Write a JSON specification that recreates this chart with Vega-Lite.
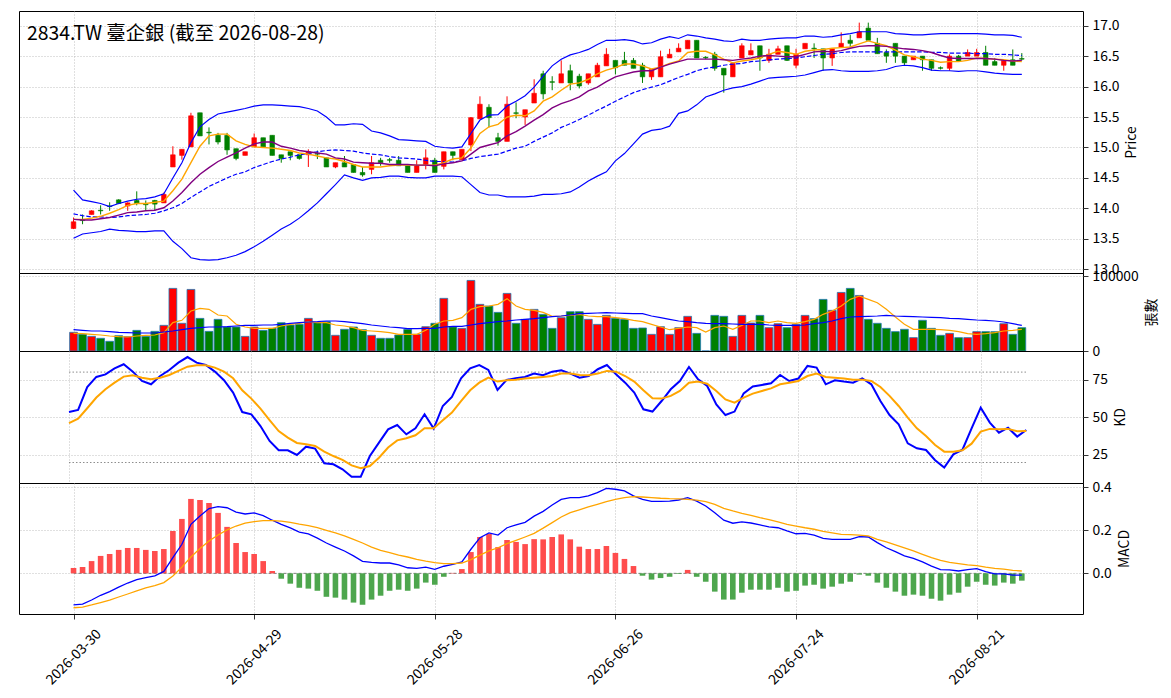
{
"$schema": "https://vega.github.io/schema/vega-lite/v6.json",
"padding": {"left": 18, "top": 10, "right": 0, "bottom": 0},
"background": "white",
"spacing": 0,
"bounds": "flush",
"config": {
 "font": "Noto Sans CJK TC",
 "view": {"stroke": "#000000", "strokeWidth": 1},
 "axis": {"labelFont": "Noto Sans CJK TC", "labelFontSize": 13.9, "labelColor": "#000000", "titleFont": "Noto Sans CJK TC", "titleFontSize": 13.9, "titleFontWeight": "normal", "titleColor": "#000000", "tickColor": "#000000", "tickWidth": 0.8, "gridColor": "#b0b0b0", "gridDash": [1, 2], "gridWidth": 0.8, "domain": false, "labelFlush": false, "labelOverlap": false},
 "axisY": {"labelOverlap": false},
 "axisQuantitative": {"labelOverlap": false},
 "title": {"font": "Noto Sans CJK TC"}
},
"datasets": {
 "kdref": [{"i":0,"ref":80,"g":"hi"},{"i":105,"ref":80,"g":"hi"},{"i":0,"ref":20,"g":"lo"},{"i":105,"ref":20,"g":"lo"}],
 "zref": [{"i":0,"z":0},{"i":105,"z":0}]
},
"data": {"values": [
{"i":0,"d":"2026-03-30","o":13.67,"h":13.85,"l":13.66,"c":13.78,"v":24900,"vm5":23600,"vm20":28400,"m5":13.82,"m10":13.82,"bu":14.30,"bm":13.91,"bl":13.51,"k":53.5,"dv":46.2,"dif":-0.147,"dea":-0.160,"osc":0.025},
{"i":1,"d":"2026-03-31","o":13.81,"h":13.90,"l":13.74,"c":13.80,"v":22200,"vm5":23100,"vm20":27600,"m5":13.82,"m10":13.81,"bu":14.14,"bm":13.88,"bl":13.58,"k":54.9,"dv":49.1,"dif":-0.143,"dea":-0.157,"osc":0.029},
{"i":2,"d":"2026-04-01","o":13.90,"h":13.97,"l":13.90,"c":13.96,"v":19500,"vm5":22200,"vm20":26700,"m5":13.84,"m10":13.81,"bu":14.11,"bm":13.86,"bl":13.60,"k":70.1,"dv":56.0,"dif":-0.124,"dea":-0.147,"osc":0.057},
{"i":3,"d":"2026-04-02","o":13.97,"h":14.05,"l":13.90,"c":13.96,"v":16900,"vm5":21300,"vm20":26700,"m5":13.87,"m10":13.83,"bu":14.08,"bm":13.86,"bl":13.62,"k":76.8,"dv":63.1,"dif":-0.102,"dea":-0.136,"osc":0.081},
{"i":4,"d":"2026-04-07","o":14.04,"h":14.10,"l":13.96,"c":14.03,"v":12900,"vm5":20000,"vm20":25800,"m5":13.92,"m10":13.85,"bu":14.03,"bm":13.85,"bl":13.66,"k":78.5,"dv":68.6,"dif":-0.085,"dea":-0.124,"osc":0.090},
{"i":5,"d":"2026-04-08","o":14.14,"h":14.15,"l":14.07,"c":14.08,"v":20400,"vm5":19100,"vm20":24900,"m5":13.98,"m10":13.89,"bu":14.08,"bm":13.86,"bl":13.64,"k":82.5,"dv":73.0,"dif":-0.064,"dea":-0.110,"osc":0.109},
{"i":6,"d":"2026-04-09","o":14.04,"h":14.10,"l":13.96,"c":14.09,"v":19100,"vm5":18700,"vm20":24400,"m5":14.05,"m10":13.93,"bu":14.12,"bm":13.88,"bl":13.63,"k":85.2,"dv":77.0,"dif":-0.045,"dea":-0.096,"osc":0.118},
{"i":7,"d":"2026-04-10","o":14.13,"h":14.28,"l":14.05,"c":14.08,"v":27500,"vm5":20000,"vm20":24000,"m5":14.08,"m10":13.94,"bu":14.15,"bm":13.89,"bl":13.62,"k":80.3,"dv":77.9,"dif":-0.029,"dea":-0.082,"osc":0.118},
{"i":8,"d":"2026-04-13","o":14.07,"h":14.13,"l":13.96,"c":14.06,"v":19500,"vm5":20900,"vm20":24000,"m5":14.08,"m10":13.96,"bu":14.16,"bm":13.90,"bl":13.62,"k":74.1,"dv":76.3,"dif":-0.020,"dea":-0.068,"osc":0.109},
{"i":9,"d":"2026-04-14","o":14.13,"h":14.14,"l":13.96,"c":14.07,"v":26200,"vm5":21300,"vm20":24000,"m5":14.10,"m10":13.97,"bu":14.19,"bm":13.92,"bl":13.63,"k":71.9,"dv":75.2,"dif":-0.012,"dea":-0.057,"osc":0.104},
{"i":10,"d":"2026-04-15","o":14.09,"h":14.26,"l":14.09,"c":14.23,"v":34200,"vm5":24400,"vm20":25300,"m5":14.12,"m10":14.01,"bu":14.24,"bm":13.96,"bl":13.63,"k":77.4,"dv":76.3,"dif":0.009,"dea":-0.043,"osc":0.113},
{"i":11,"d":"2026-04-16","o":14.68,"h":15.02,"l":14.68,"c":14.88,"v":83500,"vm5":37800,"vm20":26700,"m5":14.29,"m10":14.12,"bu":14.50,"bm":14.01,"bl":13.46,"k":81.4,"dv":78.1,"dif":0.073,"dea":-0.012,"osc":0.197},
{"i":12,"d":"2026-04-17","o":14.87,"h":14.97,"l":14.80,"c":14.97,"v":36900,"vm5":40900,"vm20":28400,"m5":14.48,"m10":14.26,"bu":14.75,"bm":14.08,"bl":13.34,"k":86.3,"dv":80.8,"dif":0.135,"dea":0.029,"osc":0.253},
{"i":13,"d":"2026-04-20","o":15.01,"h":15.57,"l":15.01,"c":15.52,"v":82100,"vm5":53300,"vm20":30200,"m5":14.75,"m10":14.42,"bu":15.08,"bm":14.18,"bl":13.19,"k":90.0,"dv":83.6,"dif":0.228,"dea":0.076,"osc":0.346},
{"i":14,"d":"2026-04-21","o":15.57,"h":15.57,"l":15.19,"c":15.19,"v":43500,"vm5":56900,"vm20":31100,"m5":15.02,"m10":14.56,"bu":15.34,"bm":14.27,"bl":13.16,"k":86.3,"dv":84.5,"dif":0.267,"dea":0.115,"osc":0.341},
{"i":15,"d":"2026-04-22","o":15.25,"h":15.33,"l":15.05,"c":15.24,"v":26200,"vm5":55600,"vm20":32000,"m5":15.19,"m10":14.67,"bu":15.46,"bm":14.36,"bl":13.15,"k":84.7,"dv":84.5,"dif":0.301,"dea":0.150,"osc":0.327},
{"i":16,"d":"2026-04-23","o":15.20,"h":15.24,"l":15.05,"c":15.09,"v":42200,"vm5":48000,"vm20":32000,"m5":15.22,"m10":14.77,"bu":15.55,"bm":14.43,"bl":13.16,"k":80.3,"dv":83.0,"dif":0.310,"dea":0.178,"osc":0.281},
{"i":17,"d":"2026-04-24","o":15.20,"h":15.24,"l":14.88,"c":14.96,"v":32000,"vm5":46700,"vm20":32400,"m5":15.22,"m10":14.84,"bu":15.58,"bm":14.50,"bl":13.19,"k":74.6,"dv":80.3,"dif":0.305,"dea":0.202,"osc":0.216},
{"i":18,"d":"2026-04-27","o":14.98,"h":14.98,"l":14.79,"c":14.82,"v":32000,"vm5":35600,"vm20":33300,"m5":15.11,"m10":14.91,"bu":15.61,"bm":14.56,"bl":13.23,"k":66.4,"dv":75.9,"dif":0.285,"dea":0.220,"osc":0.141},
{"i":19,"d":"2026-04-28","o":14.87,"h":14.93,"l":14.87,"c":14.93,"v":19500,"vm5":32000,"vm20":34200,"m5":15.05,"m10":14.99,"bu":15.64,"bm":14.60,"bl":13.29,"k":53.5,"dv":67.9,"dif":0.276,"dea":0.233,"osc":0.099},
{"i":20,"d":"2026-04-29","o":15.01,"h":15.23,"l":15.01,"c":15.16,"v":32000,"vm5":30200,"vm20":34200,"m5":15.01,"m10":15.06,"bu":15.68,"bm":14.67,"bl":13.37,"k":52.0,"dv":62.4,"dif":0.281,"dea":0.240,"osc":0.090},
{"i":21,"d":"2026-04-30","o":15.16,"h":15.16,"l":15.01,"c":15.01,"v":27500,"vm5":30200,"vm20":34700,"m5":15.00,"m10":15.09,"bu":15.70,"bm":14.72,"bl":13.46,"k":44.2,"dv":55.8,"dif":0.268,"dea":0.245,"osc":0.057},
{"i":22,"d":"2026-05-04","o":15.20,"h":15.20,"l":14.87,"c":14.87,"v":30200,"vm5":30200,"vm20":34700,"m5":14.99,"m10":15.09,"bu":15.70,"bm":14.77,"bl":13.56,"k":34.3,"dv":48.2,"dif":0.247,"dea":0.245,"osc":0.011},
{"i":23,"d":"2026-05-05","o":14.88,"h":14.88,"l":14.75,"c":14.82,"v":37700,"vm5":33300,"vm20":35600,"m5":14.97,"m10":15.02,"bu":15.69,"bm":14.81,"bl":13.66,"k":28.1,"dv":40.9,"dif":0.228,"dea":0.243,"osc":-0.025},
{"i":24,"d":"2026-05-06","o":14.93,"h":14.93,"l":14.79,"c":14.87,"v":34600,"vm5":35600,"vm20":36900,"m5":14.95,"m10":14.99,"bu":15.68,"bm":14.84,"bl":13.74,"k":28.1,"dv":36.5,"dif":0.211,"dea":0.237,"osc":-0.048},
{"i":25,"d":"2026-05-07","o":14.88,"h":14.88,"l":14.80,"c":14.82,"v":35500,"vm5":36900,"vm20":37800,"m5":14.91,"m10":14.95,"bu":15.67,"bm":14.88,"bl":13.84,"k":25.0,"dv":33.0,"dif":0.192,"dea":0.229,"osc":-0.067},
{"i":26,"d":"2026-05-08","o":14.88,"h":14.97,"l":14.68,"c":14.93,"v":43500,"vm5":39100,"vm20":38700,"m5":14.89,"m10":14.93,"bu":15.64,"bm":14.90,"bl":13.96,"k":30.5,"dv":32.1,"dif":0.183,"dea":0.222,"osc":-0.071},
{"i":27,"d":"2026-05-11","o":14.90,"h":14.95,"l":14.81,"c":14.89,"v":37700,"vm5":37800,"vm20":39100,"m5":14.86,"m10":14.91,"bu":15.60,"bm":14.93,"bl":14.09,"k":29.2,"dv":31.0,"dif":0.164,"dea":0.212,"osc":-0.081},
{"i":28,"d":"2026-05-12","o":14.83,"h":14.83,"l":14.68,"c":14.68,"v":39100,"vm5":37800,"vm20":40000,"m5":14.83,"m10":14.89,"bu":15.50,"bm":14.95,"bl":14.24,"k":19.5,"dv":27.2,"dif":0.141,"dea":0.200,"osc":-0.109},
{"i":29,"d":"2026-05-13","o":14.68,"h":14.75,"l":14.66,"c":14.75,"v":20900,"vm5":34700,"vm20":40000,"m5":14.81,"m10":14.83,"bu":15.37,"bm":14.96,"bl":14.39,"k":18.8,"dv":24.3,"dif":0.122,"dea":0.188,"osc":-0.113},
{"i":30,"d":"2026-05-14","o":14.75,"h":14.86,"l":14.68,"c":14.68,"v":28900,"vm5":33300,"vm20":39100,"m5":14.77,"m10":14.81,"bu":15.37,"bm":14.95,"bl":14.55,"k":15.5,"dv":21.7,"dif":0.104,"dea":0.174,"osc":-0.122},
{"i":31,"d":"2026-05-15","o":14.72,"h":14.72,"l":14.59,"c":14.59,"v":32000,"vm5":31100,"vm20":37800,"m5":14.72,"m10":14.76,"bu":15.39,"bm":14.94,"bl":14.50,"k":10.6,"dv":18.1,"dif":0.081,"dea":0.158,"osc":-0.136},
{"i":32,"d":"2026-05-18","o":14.59,"h":14.68,"l":14.52,"c":14.55,"v":28400,"vm5":27600,"vm20":36400,"m5":14.68,"m10":14.75,"bu":15.38,"bm":14.91,"bl":14.46,"k":10.6,"dv":16.2,"dif":0.056,"dea":0.141,"osc":-0.146},
{"i":33,"d":"2026-05-19","o":14.64,"h":14.86,"l":14.56,"c":14.75,"v":20900,"vm5":26700,"vm20":34700,"m5":14.68,"m10":14.74,"bu":15.27,"bm":14.89,"bl":14.50,"k":24.3,"dv":17.7,"dif":0.051,"dea":0.122,"osc":-0.122},
{"i":34,"d":"2026-05-20","o":14.79,"h":14.83,"l":14.70,"c":14.75,"v":16900,"vm5":25800,"vm20":33300,"m5":14.68,"m10":14.74,"bu":15.24,"bm":14.88,"bl":14.51,"k":33.2,"dv":23.2,"dif":0.048,"dea":0.107,"osc":-0.104},
{"i":35,"d":"2026-05-21","o":14.80,"h":14.83,"l":14.75,"c":14.79,"v":16900,"vm5":24400,"vm20":32000,"m5":14.70,"m10":14.72,"bu":15.19,"bm":14.85,"bl":14.53,"k":42.0,"dv":29.9,"dif":0.048,"dea":0.096,"osc":-0.081},
{"i":36,"d":"2026-05-22","o":14.79,"h":14.86,"l":14.70,"c":14.70,"v":21300,"vm5":22200,"vm20":31100,"m5":14.71,"m10":14.72,"bu":15.13,"bm":14.83,"bl":14.53,"k":44.9,"dv":34.7,"dif":0.039,"dea":0.085,"osc":-0.076},
{"i":37,"d":"2026-05-25","o":14.70,"h":14.70,"l":14.59,"c":14.59,"v":28900,"vm5":22200,"vm20":29800,"m5":14.71,"m10":14.72,"bu":15.12,"bm":14.82,"bl":14.51,"k":38.7,"dv":36.1,"dif":0.026,"dea":0.076,"osc":-0.081},
{"i":38,"d":"2026-05-26","o":14.59,"h":14.79,"l":14.59,"c":14.70,"v":22200,"vm5":22200,"vm20":29800,"m5":14.71,"m10":14.71,"bu":15.11,"bm":14.81,"bl":14.50,"k":42.7,"dv":38.1,"dif":0.023,"dea":0.065,"osc":-0.071},
{"i":39,"d":"2026-05-27","o":14.72,"h":14.97,"l":14.64,"c":14.83,"v":32400,"vm5":27600,"vm20":30200,"m5":14.71,"m10":14.71,"bu":15.10,"bm":14.79,"bl":14.50,"k":52.0,"dv":42.7,"dif":0.029,"dea":0.057,"osc":-0.043},
{"i":40,"d":"2026-05-28","o":14.79,"h":14.83,"l":14.59,"c":14.59,"v":36900,"vm5":35600,"vm20":30200,"m5":14.71,"m10":14.70,"bu":15.02,"bm":14.77,"bl":14.53,"k":42.5,"dv":42.7,"dif":0.019,"dea":0.050,"osc":-0.053},
{"i":41,"d":"2026-05-29","o":14.69,"h":14.93,"l":14.64,"c":14.93,"v":70200,"vm5":40000,"vm20":32000,"m5":14.75,"m10":14.73,"bu":15.00,"bm":14.77,"bl":14.53,"k":57.5,"dv":48.0,"dif":0.033,"dea":0.045,"osc":-0.016},
{"i":42,"d":"2026-06-01","o":14.93,"h":14.93,"l":14.79,"c":14.87,"v":32000,"vm5":40900,"vm20":32900,"m5":14.81,"m10":14.75,"bu":14.99,"bm":14.76,"bl":14.53,"k":63.5,"dv":53.1,"dif":0.042,"dea":0.045,"osc":0.002},
{"i":43,"d":"2026-06-02","o":14.80,"h":14.97,"l":14.80,"c":14.97,"v":30200,"vm5":44400,"vm20":32900,"m5":14.83,"m10":14.78,"bu":15.01,"bm":14.78,"bl":14.52,"k":75.9,"dv":60.8,"dif":0.053,"dea":0.048,"osc":0.020},
{"i":44,"d":"2026-06-03","o":15.04,"h":15.50,"l":14.94,"c":15.49,"v":94100,"vm5":55600,"vm20":34700,"m5":14.99,"m10":14.89,"bu":15.23,"bm":14.82,"bl":14.39,"k":82.5,"dv":67.9,"dif":0.112,"dea":0.064,"osc":0.099},
{"i":45,"d":"2026-06-04","o":15.47,"h":15.84,"l":15.47,"c":15.71,"v":62200,"vm5":59100,"vm20":36400,"m5":15.23,"m10":15.00,"bu":15.45,"bm":14.85,"bl":14.26,"k":84.7,"dv":73.0,"dif":0.166,"dea":0.085,"osc":0.169},
{"i":46,"d":"2026-06-05","o":15.66,"h":15.71,"l":15.33,"c":15.49,"v":59900,"vm5":60000,"vm20":37800,"m5":15.34,"m10":15.04,"bu":15.53,"bm":14.87,"bl":14.22,"k":81.4,"dv":76.3,"dif":0.188,"dea":0.104,"osc":0.183},
{"i":47,"d":"2026-06-08","o":15.16,"h":15.24,"l":15.03,"c":15.10,"v":51500,"vm5":62200,"vm20":39100,"m5":15.38,"m10":15.08,"bu":15.54,"bm":14.89,"bl":14.22,"k":68.1,"dv":73.7,"dif":0.178,"dea":0.119,"osc":0.122},
{"i":48,"d":"2026-06-09","o":15.10,"h":15.84,"l":15.10,"c":15.71,"v":76800,"vm5":69800,"vm20":40000,"m5":15.50,"m10":15.19,"bu":15.68,"bm":14.94,"bl":14.19,"k":74.8,"dv":74.6,"dif":0.212,"dea":0.138,"osc":0.155},
{"i":49,"d":"2026-06-10","o":15.57,"h":15.74,"l":15.48,"c":15.56,"v":36900,"vm5":60000,"vm20":41300,"m5":15.53,"m10":15.26,"bu":15.76,"bm":14.99,"bl":14.19,"k":75.9,"dv":75.0,"dif":0.225,"dea":0.153,"osc":0.146},
{"i":50,"d":"2026-06-11","o":15.50,"h":15.62,"l":15.37,"c":15.62,"v":42200,"vm5":55600,"vm20":42200,"m5":15.52,"m10":15.35,"bu":15.85,"bm":15.02,"bl":14.19,"k":76.8,"dv":75.7,"dif":0.237,"dea":0.169,"osc":0.136},
{"i":51,"d":"2026-06-12","o":15.73,"h":16.12,"l":15.73,"c":15.89,"v":55500,"vm5":54200,"vm20":43100,"m5":15.60,"m10":15.45,"bu":15.99,"bm":15.10,"bl":14.20,"k":79.0,"dv":76.3,"dif":0.266,"dea":0.186,"osc":0.159},
{"i":52,"d":"2026-06-15","o":16.21,"h":16.26,"l":15.79,"c":15.88,"v":48800,"vm5":51500,"vm20":44400,"m5":15.76,"m10":15.54,"bu":16.17,"bm":15.17,"bl":14.23,"k":77.9,"dv":76.8,"dif":0.288,"dea":0.210,"osc":0.158},
{"i":53,"d":"2026-06-16","o":16.08,"h":16.17,"l":15.94,"c":16.07,"v":30200,"vm5":46200,"vm20":45800,"m5":15.83,"m10":15.65,"bu":16.34,"bm":15.24,"bl":14.23,"k":80.3,"dv":77.4,"dif":0.318,"dea":0.236,"osc":0.169},
{"i":54,"d":"2026-06-17","o":16.06,"h":16.43,"l":16.06,"c":16.21,"v":44400,"vm5":46700,"vm20":46700,"m5":15.94,"m10":15.72,"bu":16.45,"bm":15.33,"bl":14.24,"k":81.2,"dv":79.0,"dif":0.344,"dea":0.262,"osc":0.181},
{"i":55,"d":"2026-06-18","o":16.26,"h":16.36,"l":15.94,"c":16.06,"v":52400,"vm5":47600,"vm20":48000,"m5":16.04,"m10":15.77,"bu":16.52,"bm":15.39,"bl":14.27,"k":79.0,"dv":79.0,"dif":0.352,"dea":0.282,"osc":0.158},
{"i":56,"d":"2026-06-22","o":16.17,"h":16.21,"l":15.97,"c":16.01,"v":52400,"vm5":48900,"vm20":49800,"m5":16.06,"m10":15.83,"bu":16.56,"bm":15.46,"bl":14.35,"k":76.3,"dv":78.1,"dif":0.352,"dea":0.295,"osc":0.124},
{"i":57,"d":"2026-06-23","o":16.06,"h":16.21,"l":16.03,"c":16.21,"v":42200,"vm5":46700,"vm20":50200,"m5":16.12,"m10":15.93,"bu":16.61,"bm":15.53,"bl":14.45,"k":77.4,"dv":77.9,"dif":0.360,"dea":0.309,"osc":0.113},
{"i":58,"d":"2026-06-24","o":16.16,"h":16.39,"l":16.16,"c":16.35,"v":35500,"vm5":45800,"vm20":50700,"m5":16.21,"m10":15.99,"bu":16.69,"bm":15.61,"bl":14.53,"k":81.9,"dv":79.0,"dif":0.375,"dea":0.321,"osc":0.113},
{"i":59,"d":"2026-06-25","o":16.34,"h":16.63,"l":16.34,"c":16.53,"v":47500,"vm5":45800,"vm20":51100,"m5":16.27,"m10":16.08,"bu":16.76,"bm":15.68,"bl":14.60,"k":84.7,"dv":80.8,"dif":0.395,"dea":0.333,"osc":0.127},
{"i":60,"d":"2026-06-26","o":16.43,"h":16.43,"l":16.20,"c":16.31,"v":43500,"vm5":44400,"vm20":50700,"m5":16.31,"m10":16.16,"bu":16.76,"bm":15.76,"bl":14.78,"k":78.5,"dv":80.3,"dif":0.391,"dea":0.344,"osc":0.095},
{"i":61,"d":"2026-06-29","o":16.43,"h":16.57,"l":16.35,"c":16.35,"v":42200,"vm5":43100,"vm20":50200,"m5":16.37,"m10":16.20,"bu":16.77,"bm":15.83,"bl":14.90,"k":73.0,"dv":77.4,"dif":0.383,"dea":0.352,"osc":0.067},
{"i":62,"d":"2026-06-30","o":16.43,"h":16.47,"l":16.30,"c":16.30,"v":30200,"vm5":40900,"vm20":49800,"m5":16.37,"m10":16.24,"bu":16.75,"bm":15.90,"bl":15.06,"k":66.4,"dv":73.7,"dif":0.360,"dea":0.357,"osc":0.034},
{"i":63,"d":"2026-07-01","o":16.35,"h":16.39,"l":16.06,"c":16.16,"v":30700,"vm5":39100,"vm20":49800,"m5":16.34,"m10":16.26,"bu":16.70,"bm":15.95,"bl":15.22,"k":55.3,"dv":67.9,"dif":0.344,"dea":0.355,"osc":-0.011},
{"i":64,"d":"2026-07-02","o":16.16,"h":16.28,"l":16.11,"c":16.28,"v":22200,"vm5":35600,"vm20":46700,"m5":16.29,"m10":16.26,"bu":16.72,"bm":15.99,"bl":15.28,"k":53.8,"dv":62.6,"dif":0.335,"dea":0.352,"osc":-0.029},
{"i":65,"d":"2026-07-03","o":16.16,"h":16.59,"l":16.16,"c":16.49,"v":32400,"vm5":32000,"vm20":44400,"m5":16.32,"m10":16.32,"bu":16.78,"bm":16.03,"bl":15.30,"k":60.8,"dv":62.4,"dif":0.335,"dea":0.349,"osc":-0.022},
{"i":66,"d":"2026-07-06","o":16.47,"h":16.62,"l":16.47,"c":16.53,"v":22200,"vm5":28400,"vm20":42200,"m5":16.38,"m10":16.37,"bu":16.82,"bm":16.09,"bl":15.35,"k":68.6,"dv":64.2,"dif":0.336,"dea":0.347,"osc":-0.016},
{"i":67,"d":"2026-07-07","o":16.57,"h":16.71,"l":16.57,"c":16.63,"v":31100,"vm5":30200,"vm20":40000,"m5":16.42,"m10":16.41,"bu":16.79,"bm":16.15,"bl":15.56,"k":74.1,"dv":67.5,"dif":0.341,"dea":0.346,"osc":-0.003},
{"i":68,"d":"2026-07-08","o":16.62,"h":16.76,"l":16.62,"c":16.76,"v":46200,"vm5":32000,"vm20":39100,"m5":16.56,"m10":16.45,"bu":16.85,"bm":16.20,"bl":15.60,"k":83.4,"dv":73.0,"dif":0.352,"dea":0.344,"osc":0.016},
{"i":69,"d":"2026-07-09","o":16.76,"h":16.76,"l":16.47,"c":16.47,"v":23500,"vm5":31100,"vm20":37800,"m5":16.58,"m10":16.45,"bu":16.83,"bm":16.26,"bl":15.70,"k":75.2,"dv":73.7,"dif":0.336,"dea":0.340,"osc":-0.016},
{"i":70,"d":"2026-07-10","o":16.48,"h":16.50,"l":16.45,"c":16.47,"v":0,"vm5":25300,"vm20":36900,"m5":16.58,"m10":16.45,"bu":16.80,"bm":16.30,"bl":15.83,"k":70.8,"dv":72.3,"dif":0.313,"dea":0.333,"osc":-0.039},
{"i":71,"d":"2026-07-13","o":16.53,"h":16.57,"l":16.26,"c":16.30,"v":47500,"vm5":31100,"vm20":36400,"m5":16.52,"m10":16.45,"bu":16.78,"bm":16.32,"bl":15.88,"k":58.6,"dv":67.5,"dif":0.282,"dea":0.321,"osc":-0.085},
{"i":72,"d":"2026-07-14","o":16.30,"h":16.30,"l":15.90,"c":16.19,"v":46200,"vm5":33300,"vm20":36400,"m5":16.45,"m10":16.44,"bu":16.75,"bm":16.35,"bl":15.94,"k":51.5,"dv":61.9,"dif":0.247,"dea":0.302,"osc":-0.122},
{"i":73,"d":"2026-07-15","o":16.16,"h":16.40,"l":16.16,"c":16.38,"v":19500,"vm5":28900,"vm20":36000,"m5":16.39,"m10":16.43,"bu":16.74,"bm":16.37,"bl":15.98,"k":53.8,"dv":59.7,"dif":0.233,"dea":0.290,"osc":-0.122},
{"i":74,"d":"2026-07-16","o":16.47,"h":16.71,"l":16.47,"c":16.67,"v":47500,"vm5":34200,"vm20":35600,"m5":16.42,"m10":16.45,"bu":16.78,"bm":16.38,"bl":16.00,"k":65.9,"dv":63.1,"dif":0.239,"dea":0.279,"osc":-0.090},
{"i":75,"d":"2026-07-17","o":16.52,"h":16.71,"l":16.52,"c":16.59,"v":37300,"vm5":40000,"vm20":35600,"m5":16.44,"m10":16.47,"bu":16.76,"bm":16.41,"bl":16.04,"k":70.4,"dv":65.7,"dif":0.234,"dea":0.270,"osc":-0.076},
{"i":76,"d":"2026-07-20","o":16.67,"h":16.67,"l":16.26,"c":16.47,"v":47500,"vm5":40000,"vm20":35600,"m5":16.47,"m10":16.50,"bu":16.76,"bm":16.42,"bl":16.09,"k":71.5,"dv":67.5,"dif":0.225,"dea":0.259,"osc":-0.076},
{"i":77,"d":"2026-07-21","o":16.43,"h":16.62,"l":16.39,"c":16.53,"v":31100,"vm5":37800,"vm20":34700,"m5":16.53,"m10":16.51,"bu":16.78,"bm":16.44,"bl":16.14,"k":72.6,"dv":69.2,"dif":0.216,"dea":0.250,"osc":-0.076},
{"i":78,"d":"2026-07-22","o":16.53,"h":16.67,"l":16.53,"c":16.62,"v":36400,"vm5":40000,"vm20":34200,"m5":16.58,"m10":16.50,"bu":16.79,"bm":16.45,"bl":16.15,"k":78.1,"dv":71.9,"dif":0.212,"dea":0.239,"osc":-0.067},
{"i":79,"d":"2026-07-23","o":16.67,"h":16.67,"l":16.42,"c":16.43,"v":31100,"vm5":37800,"vm20":34200,"m5":16.56,"m10":16.49,"bu":16.80,"bm":16.46,"bl":16.16,"k":74.1,"dv":73.0,"dif":0.197,"dea":0.228,"osc":-0.085},
{"i":80,"d":"2026-07-24","o":16.35,"h":16.62,"l":16.30,"c":16.53,"v":35500,"vm5":36900,"vm20":34200,"m5":16.53,"m10":16.49,"bu":16.80,"bm":16.47,"bl":16.17,"k":75.7,"dv":74.1,"dif":0.184,"dea":0.220,"osc":-0.081},
{"i":81,"d":"2026-07-27","o":16.62,"h":16.71,"l":16.62,"c":16.71,"v":47500,"vm5":39100,"vm20":34700,"m5":16.58,"m10":16.53,"bu":16.83,"bm":16.49,"bl":16.19,"k":84.1,"dv":77.4,"dif":0.186,"dea":0.212,"osc":-0.057},
{"i":82,"d":"2026-07-28","o":16.63,"h":16.71,"l":16.47,"c":16.62,"v":43100,"vm5":42200,"vm20":36400,"m5":16.60,"m10":16.57,"bu":16.83,"bm":16.51,"bl":16.23,"k":83.0,"dv":79.0,"dif":0.178,"dea":0.205,"osc":-0.053},
{"i":83,"d":"2026-07-29","o":16.62,"h":16.62,"l":16.26,"c":16.47,"v":68800,"vm5":48900,"vm20":37800,"m5":16.61,"m10":16.58,"bu":16.81,"bm":16.53,"bl":16.27,"k":71.9,"dv":76.8,"dif":0.163,"dea":0.195,"osc":-0.071},
{"i":84,"d":"2026-07-30","o":16.47,"h":16.62,"l":16.34,"c":16.62,"v":54200,"vm5":53300,"vm20":40000,"m5":16.63,"m10":16.57,"bu":16.82,"bm":16.54,"bl":16.28,"k":74.6,"dv":76.3,"dif":0.158,"dea":0.188,"osc":-0.062},
{"i":85,"d":"2026-07-31","o":16.65,"h":16.89,"l":16.65,"c":16.71,"v":78100,"vm5":60000,"vm20":43100,"m5":16.64,"m10":16.59,"bu":16.85,"bm":16.56,"bl":16.26,"k":73.7,"dv":75.7,"dif":0.158,"dea":0.181,"osc":-0.048},
{"i":86,"d":"2026-08-03","o":16.76,"h":16.85,"l":16.65,"c":16.71,"v":83500,"vm5":68900,"vm20":45300,"m5":16.65,"m10":16.63,"bu":16.87,"bm":16.57,"bl":16.25,"k":73.0,"dv":75.0,"dif":0.158,"dea":0.180,"osc":-0.039},
{"i":87,"d":"2026-08-04","o":16.80,"h":17.05,"l":16.80,"c":16.90,"v":74100,"vm5":73300,"vm20":45800,"m5":16.70,"m10":16.66,"bu":16.90,"bm":16.57,"bl":16.25,"k":75.9,"dv":75.0,"dif":0.171,"dea":0.178,"osc":-0.006},
{"i":88,"d":"2026-08-05","o":16.96,"h":17.05,"l":16.76,"c":16.76,"v":42200,"vm5":68900,"vm20":46200,"m5":16.75,"m10":16.67,"bu":16.90,"bm":16.57,"bl":16.25,"k":71.9,"dv":74.1,"dif":0.169,"dea":0.174,"osc":-0.011},
{"i":89,"d":"2026-08-06","o":16.71,"h":16.80,"l":16.54,"c":16.54,"v":36900,"vm5":64400,"vm20":46700,"m5":16.71,"m10":16.67,"bu":16.90,"bm":16.57,"bl":16.26,"k":60.8,"dv":70.1,"dif":0.143,"dea":0.158,"osc":-0.043},
{"i":90,"d":"2026-08-07","o":16.56,"h":16.61,"l":16.39,"c":16.50,"v":30200,"vm5":55600,"vm20":47600,"m5":16.67,"m10":16.66,"bu":16.90,"bm":16.57,"bl":16.28,"k":51.5,"dv":64.2,"dif":0.119,"dea":0.146,"osc":-0.067},
{"i":91,"d":"2026-08-10","o":16.71,"h":16.71,"l":16.39,"c":16.50,"v":25800,"vm5":45300,"vm20":46700,"m5":16.60,"m10":16.64,"bu":16.87,"bm":16.57,"bl":16.33,"k":45.4,"dv":57.5,"dif":0.101,"dea":0.132,"osc":-0.085},
{"i":92,"d":"2026-08-11","o":16.50,"h":16.50,"l":16.34,"c":16.39,"v":28900,"vm5":35600,"vm20":46200,"m5":16.52,"m10":16.62,"bu":16.86,"bm":16.57,"bl":16.35,"k":32.7,"dv":49.8,"dif":0.081,"dea":0.118,"osc":-0.104},
{"i":93,"d":"2026-08-12","o":16.44,"h":16.50,"l":16.44,"c":16.50,"v":17800,"vm5":28900,"vm20":45800,"m5":16.49,"m10":16.61,"bu":16.85,"bm":16.57,"bl":16.34,"k":29.4,"dv":42.7,"dif":0.070,"dea":0.104,"osc":-0.099},
{"i":94,"d":"2026-08-13","o":16.50,"h":16.50,"l":16.26,"c":16.44,"v":40900,"vm5":28900,"vm20":45300,"m5":16.45,"m10":16.59,"bu":16.85,"bm":16.57,"bl":16.31,"k":28.3,"dv":37.6,"dif":0.053,"dea":0.088,"osc":-0.104},
{"i":95,"d":"2026-08-14","o":16.44,"h":16.44,"l":16.26,"c":16.30,"v":30200,"vm5":28900,"vm20":44900,"m5":16.43,"m10":16.56,"bu":16.86,"bm":16.56,"bl":16.27,"k":21.5,"dv":31.6,"dif":0.034,"dea":0.073,"osc":-0.118},
{"i":96,"d":"2026-08-17","o":16.31,"h":16.33,"l":16.28,"c":16.30,"v":20900,"vm5":28400,"vm20":44400,"m5":16.40,"m10":16.51,"bu":16.87,"bm":16.56,"bl":16.26,"k":16.6,"dv":27.2,"dif":0.017,"dea":0.060,"osc":-0.127},
{"i":97,"d":"2026-08-18","o":16.30,"h":16.53,"l":16.26,"c":16.50,"v":23500,"vm5":27600,"vm20":43600,"m5":16.41,"m10":16.47,"bu":16.87,"bm":16.55,"bl":16.26,"k":25.4,"dv":27.2,"dif":0.016,"dea":0.051,"osc":-0.099},
{"i":98,"d":"2026-08-19","o":16.50,"h":16.52,"l":16.42,"c":16.42,"v":17800,"vm5":25800,"vm20":43100,"m5":16.41,"m10":16.46,"bu":16.87,"bm":16.55,"bl":16.25,"k":28.5,"dv":28.1,"dif":0.011,"dea":0.045,"osc":-0.090},
{"i":99,"d":"2026-08-20","o":16.50,"h":16.61,"l":16.50,"c":16.56,"v":17800,"vm5":23100,"vm20":42200,"m5":16.43,"m10":16.46,"bu":16.87,"bm":16.55,"bl":16.26,"k":42.7,"dv":32.5,"dif":0.017,"dea":0.039,"osc":-0.062},
{"i":100,"d":"2026-08-21","o":16.50,"h":16.62,"l":16.50,"c":16.56,"v":25800,"vm5":22200,"vm20":41300,"m5":16.47,"m10":16.46,"bu":16.87,"bm":16.54,"bl":16.26,"k":56.4,"dv":40.5,"dif":0.022,"dea":0.036,"osc":-0.039},
{"i":101,"d":"2026-08-24","o":16.56,"h":16.67,"l":16.35,"c":16.35,"v":25800,"vm5":23100,"vm20":40900,"m5":16.46,"m10":16.46,"bu":16.86,"bm":16.54,"bl":16.24,"k":46.5,"dv":42.3,"dif":0.008,"dea":0.029,"osc":-0.053},
{"i":102,"d":"2026-08-25","o":16.41,"h":16.47,"l":16.35,"c":16.35,"v":25800,"vm5":24400,"vm20":40000,"m5":16.45,"m10":16.45,"bu":16.85,"bm":16.53,"bl":16.22,"k":39.8,"dv":42.0,"dif":-0.002,"dea":0.023,"osc":-0.057},
{"i":103,"d":"2026-08-26","o":16.35,"h":16.43,"l":16.26,"c":16.43,"v":36400,"vm5":26700,"vm20":38700,"m5":16.44,"m10":16.43,"bu":16.85,"bm":16.53,"bl":16.21,"k":43.1,"dv":42.3,"dif":-0.002,"dea":0.020,"osc":-0.043},
{"i":104,"d":"2026-08-27","o":16.44,"h":16.61,"l":16.35,"c":16.35,"v":22200,"vm5":27600,"vm20":36400,"m5":16.42,"m10":16.42,"bu":16.84,"bm":16.52,"bl":16.20,"k":37.2,"dv":40.7,"dif":-0.008,"dea":0.014,"osc":-0.048},
{"i":105,"d":"2026-08-28","o":16.46,"h":16.55,"l":16.43,"c":16.45,"v":31100,"vm5":28900,"vm20":34200,"m5":16.41,"m10":16.43,"bu":16.81,"bm":16.51,"bl":16.20,"k":41.6,"dv":40.9,"dif":-0.008,"dea":0.011,"osc":-0.034}
]},
"vconcat": [
{
 "width": 1064, "height": 262,
 "title": {"text": "2834.TW 臺企銀 (截至 2026-08-28)", "anchor": "start", "frame": "group", "offset": -48, "baseline": "alphabetic", "dx": 8, "fontSize": 19.4, "fontWeight": "normal", "color": "#000000", "font": "Noto Sans CJK TC"},
 "encoding": {"x": {"field": "i", "type": "quantitative", "scale": {"domain": [-5.484, 111.22], "nice": false, "zero": false}, "axis": {"values": [0, 20, 40, 60, 80, 100], "labels": false, "ticks": false, "domain": false, "title": null, "grid": true}}},
 "layer": [
  {"mark": {"type": "rule", "strokeWidth": 1}, "encoding": {"y": {"field": "l", "type": "quantitative", "title": "Price", "scale": {"domain": [12.939, 17.241], "zero": false, "nice": false}, "axis": {"orient": "right", "values": [13,13.5,14,14.5,15,15.5,16,16.5,17], "format": ".1f", "labelOverlap": false, "labelSeparation": 0, "tickSize": 5, "labelPadding": 4, "titlePadding": 6, "titleAngle": 270, "titleBaseline": "top", "grid": true}}, "y2": {"field": "h"}, "color": {"condition": {"test": "datum.c >= datum.o", "value": "#ff0000"}, "value": "#008000"}}},
  {"mark": {"type": "bar", "size": 4.6, "strokeWidth": 0.6}, "encoding": {"y": {"field": "o", "type": "quantitative", "title": "Price", "axis": {"orient": "right", "values": [13,13.5,14,14.5,15,15.5,16,16.5,17], "format": ".1f", "labelOverlap": false, "labelSeparation": 0, "tickSize": 5, "labelPadding": 4, "titlePadding": 6, "titleAngle": 270, "titleBaseline": "top", "grid": true}}, "y2": {"field": "c"}, "color": {"condition": {"test": "datum.c >= datum.o", "value": "#ff0000"}, "value": "#008000"}, "stroke": {"condition": {"test": "datum.c >= datum.o", "value": "#ff0000"}, "value": "#008000"}}},
  {"mark": {"type": "line", "color": "#0000ff", "strokeWidth": 1.2}, "encoding": {"y": {"field": "bu", "type": "quantitative", "title": "Price", "axis": {"orient": "right", "values": [13,13.5,14,14.5,15,15.5,16,16.5,17], "format": ".1f", "labelOverlap": false, "labelSeparation": 0, "tickSize": 5, "labelPadding": 4, "titlePadding": 6, "titleAngle": 270, "titleBaseline": "top", "grid": true}}}},
  {"mark": {"type": "line", "color": "#0000ff", "strokeWidth": 1.2}, "encoding": {"y": {"field": "bl", "type": "quantitative", "title": "Price", "axis": {"orient": "right", "values": [13,13.5,14,14.5,15,15.5,16,16.5,17], "format": ".1f", "labelOverlap": false, "labelSeparation": 0, "tickSize": 5, "labelPadding": 4, "titlePadding": 6, "titleAngle": 270, "titleBaseline": "top", "grid": true}}}},
  {"mark": {"type": "line", "color": "#0000ff", "strokeWidth": 1.2, "strokeDash": [4.5, 2]}, "encoding": {"y": {"field": "bm", "type": "quantitative", "title": "Price", "axis": {"orient": "right", "values": [13,13.5,14,14.5,15,15.5,16,16.5,17], "format": ".1f", "labelOverlap": false, "labelSeparation": 0, "tickSize": 5, "labelPadding": 4, "titlePadding": 6, "titleAngle": 270, "titleBaseline": "top", "grid": true}}}},
  {"mark": {"type": "line", "color": "#ffa500", "strokeWidth": 1.4}, "encoding": {"y": {"field": "m5", "type": "quantitative", "title": "Price", "axis": {"orient": "right", "values": [13,13.5,14,14.5,15,15.5,16,16.5,17], "format": ".1f", "labelOverlap": false, "labelSeparation": 0, "tickSize": 5, "labelPadding": 4, "titlePadding": 6, "titleAngle": 270, "titleBaseline": "top", "grid": true}}}},
  {"mark": {"type": "line", "color": "#800080", "strokeWidth": 1.4}, "encoding": {"y": {"field": "m10", "type": "quantitative", "title": "Price", "axis": {"orient": "right", "values": [13,13.5,14,14.5,15,15.5,16,16.5,17], "format": ".1f", "labelOverlap": false, "labelSeparation": 0, "tickSize": 5, "labelPadding": 4, "titlePadding": 6, "titleAngle": 270, "titleBaseline": "top", "grid": true}}}}
 ]
},
{
 "width": 1064, "height": 78,
 "encoding": {"x": {"field": "i", "type": "quantitative", "scale": {"domain": [-5.484, 111.22], "nice": false, "zero": false}, "axis": {"values": [0, 20, 40, 60, 80, 100], "labels": false, "ticks": false, "domain": false, "title": null, "grid": true}}},
 "layer": [
  {"mark": {"type": "bar", "size": 7.8, "stroke": "#1f77b4", "strokeWidth": 0.8}, "encoding": {"y": {"field": "v", "type": "quantitative", "title": "張數", "scale": {"domain": [0, 104000], "nice": false}, "axis": {"orient": "right", "values": [0, 100000], "format": "d", "labelOverlap": false, "tickSize": 5, "labelPadding": 4, "titlePadding": 6, "titleAngle": 270, "titleBaseline": "top", "grid": true}}, "color": {"condition": {"test": "datum.c >= datum.o", "value": "#ff0000"}, "value": "#008000"}}},
  {"mark": {"type": "line", "color": "#ffa500", "strokeWidth": 1.2}, "encoding": {"y": {"field": "vm5", "type": "quantitative", "title": "張數"}}},
  {"mark": {"type": "line", "color": "#0000ff", "strokeWidth": 1.2}, "encoding": {"y": {"field": "vm20", "type": "quantitative", "title": "張數"}}}
 ]
},
{
 "width": 1064, "height": 132,
 "encoding": {"x": {"field": "i", "type": "quantitative", "scale": {"domain": [-5.484, 111.22], "nice": false, "zero": false}, "axis": {"values": [0, 20, 40, 60, 80, 100], "labels": false, "ticks": false, "domain": false, "title": null, "grid": true}}},
 "layer": [
  {"data": {"name": "kdref"}, "mark": {"type": "line", "color": "#808080", "strokeWidth": 0.9, "strokeDash": [1.5, 2]}, "encoding": {"y": {"field": "ref", "type": "quantitative", "title": "KD", "scale": {"domain": [6.4, 94.0], "zero": false, "nice": false}, "axis": {"orient": "right", "values": [25, 50, 75], "labelOverlap": false, "tickSize": 5, "labelPadding": 4, "titlePadding": 6, "titleAngle": 270, "titleBaseline": "top", "grid": true}}, "detail": {"field": "g"}}},
  {"mark": {"type": "line", "color": "#0000ff", "strokeWidth": 2}, "encoding": {"y": {"field": "k", "type": "quantitative", "title": "KD"}}},
  {"mark": {"type": "line", "color": "#ffa500", "strokeWidth": 2}, "encoding": {"y": {"field": "dv", "type": "quantitative", "title": "KD"}}}
 ]
},
{
 "width": 1064, "height": 131,
 "encoding": {"x": {"field": "i", "type": "quantitative", "scale": {"domain": [-5.484, 111.22], "nice": false, "zero": false}, "axis": {"values": [0, 20, 40, 60, 80, 100], "labelExpr": "datum.value == 0 ? '2026-03-30' : datum.value == 20 ? '2026-04-29' : datum.value == 40 ? '2026-05-28' : datum.value == 60 ? '2026-06-26' : datum.value == 80 ? '2026-07-24' : '2026-08-21'", "labelAngle": -45, "labelAlign": "center", "labelBaseline": "middle", "labelPadding": 38, "labelOverlap": false, "tickSize": 5, "domain": false, "title": null, "grid": true}}},
 "layer": [
  {"data": {"name": "zref"}, "mark": {"type": "line", "color": "#808080", "strokeWidth": 1, "strokeDash": [3, 2]}, "encoding": {"y": {"field": "z", "type": "quantitative", "title": "MACD", "scale": {"domain": [-0.189, 0.42], "zero": true, "nice": false}, "axis": {"orient": "right", "values": [0, 0.2, 0.4], "format": ".1f", "labelOverlap": false, "tickSize": 5, "labelPadding": 4, "titlePadding": 6, "titleAngle": 270, "titleBaseline": "top", "grid": true}}}},
  {"mark": {"type": "bar", "size": 5.6}, "encoding": {"y": {"field": "osc", "type": "quantitative", "title": "MACD"}, "color": {"condition": {"test": "datum.osc >= 0", "value": "#ff4d4d"}, "value": "#4da64d"}}},
  {"mark": {"type": "line", "color": "#0000ff", "strokeWidth": 1.3}, "encoding": {"y": {"field": "dif", "type": "quantitative", "title": "MACD"}}},
  {"mark": {"type": "line", "color": "#ffa500", "strokeWidth": 1.3}, "encoding": {"y": {"field": "dea", "type": "quantitative", "title": "MACD"}}}
 ]
}
]
}
